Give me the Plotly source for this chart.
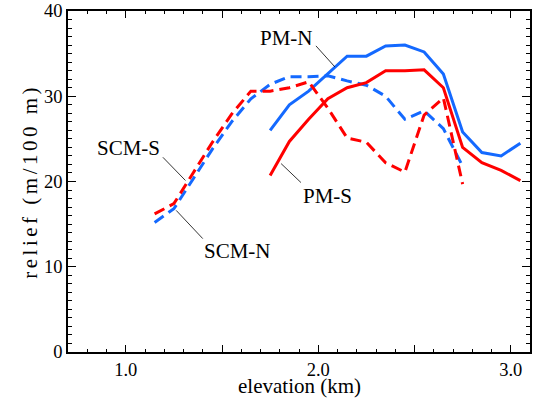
import plotly.graph_objects as go

# ---- data ----
pm_elev = [1.75, 1.85, 1.95, 2.05, 2.15, 2.25, 2.35, 2.45, 2.55, 2.65, 2.75, 2.85, 2.95, 3.05]
pm_n = [26.0, 29.0, 30.6, 32.7, 34.7, 34.7, 35.9, 36.0, 35.2, 32.6, 25.8, 23.4, 23.0, 24.5]
pm_s = [20.7, 24.7, 27.3, 29.7, 31.0, 31.6, 33.0, 33.0, 33.1, 31.0, 24.0, 22.2, 21.3, 20.1]

scm_elev = [1.15, 1.25, 1.35, 1.45, 1.55, 1.65, 1.75, 1.85, 1.95, 2.05, 2.15, 2.25, 2.35, 2.45, 2.55, 2.65, 2.75]
scm_n = [15.2, 16.8, 20.3, 23.8, 27.0, 29.7, 31.4, 32.3, 32.3, 32.4, 31.8, 31.3, 30.0, 27.3, 28.3, 26.2, 21.8]
scm_s = [16.2, 17.4, 21.0, 24.6, 27.9, 30.6, 30.6, 31.0, 31.7, 28.6, 25.1, 24.6, 22.2, 21.1, 27.8, 29.8, 19.7]

x_tickvals = [1.0, 1.5, 2.0, 2.5, 3.0]
x_ticktext = ["1.0", "", "2.0", "", "3.0"]
y_tickvals = [0, 10, 20, 30, 40]
y_ticktext = ["0", "10", "20", "30", "40"]

# label positions (data coords) and leader lines
labels = [
    ("PM-N", 1.835, 36.85, (1.988, 35.91), (2.086, 33.45)),
    ("PM-S", 2.049, 18.25, (1.910, 19.88), (1.807, 22.10)),
    ("SCM-S", 1.012, 23.98, (1.193, 22.84), (1.310, 20.12)),
    ("SCM-N", 1.582, 11.87, (1.400, 13.30), (1.262, 16.61)),
]

BLUE = "#1469ff"
RED = "#ff0000"
FONT = "Liberation Serif"

fig = go.Figure()
fig.add_trace(go.Scatter(x=pm_elev, y=pm_n, mode="lines", line=dict(color=BLUE, width=3), name="PM-N"))
fig.add_trace(go.Scatter(x=scm_elev, y=scm_n, mode="lines", line=dict(color=BLUE, width=3, dash="11px,6px"), name="SCM-N"))
fig.add_trace(go.Scatter(x=pm_elev, y=pm_s, mode="lines", line=dict(color=RED, width=3), name="PM-S"))
fig.add_trace(go.Scatter(x=scm_elev, y=scm_s, mode="lines", line=dict(color=RED, width=3, dash="11px,6px"), name="SCM-S"))

for text, tx, ty, p1, p2 in labels:
    fig.add_annotation(x=tx, y=ty, text=text, showarrow=False, xanchor="center", yanchor="middle",
                       font=dict(family=FONT, size=21, color="black"))
    fig.add_shape(type="line", x0=p1[0], y0=p1[1], x1=p2[0], y1=p2[1], xref="x", yref="y",
                  line=dict(color="black", width=0.8))

# axis titles
fig.add_annotation(xref="paper", yref="paper", x=0.5, y=-0.1, text="elevation (km)", showarrow=False,
                   xanchor="center", yanchor="middle", font=dict(family=FONT, size=21, color="black"))
fig.add_annotation(xref="paper", yref="paper", x=-0.084, y=0.5,
                   text='<span style="letter-spacing:3.5px">relief (m/100 m)</span>', showarrow=False,
                   textangle=-90, xanchor="center", yanchor="middle",
                   font=dict(family=FONT, size=21, color="black"))

axis_common = dict(showline=True, linecolor="black", linewidth=1.5, mirror="ticks", ticks="inside",
                   tickcolor="black", tickwidth=1.2, showgrid=False, zeroline=False,
                   tickfont=dict(family=FONT, size=18.5, color="black"))
fig.update_xaxes(range=[0.7, 3.1], tickmode="array", tickvals=x_tickvals, ticktext=x_ticktext, ticklen=7,
                 minor=dict(dtick=0.1, tick0=0.0, ticks="inside", ticklen=3.5, tickcolor="black", tickwidth=1.2),
                 **axis_common)
fig.update_yaxes(range=[0, 40], tickmode="array", tickvals=y_tickvals, ticktext=y_ticktext, ticklen=8,
                 minor=dict(dtick=1, tick0=0, ticks="inside", ticklen=4, tickcolor="black", tickwidth=1.2),
                 **axis_common)

fig.update_layout(width=533, height=398, margin=dict(l=68, r=1, t=10, b=46, pad=0),
                  plot_bgcolor="white", paper_bgcolor="white", showlegend=False,
                  font=dict(family=FONT, color="black"))

fig.write_html("out.html")
